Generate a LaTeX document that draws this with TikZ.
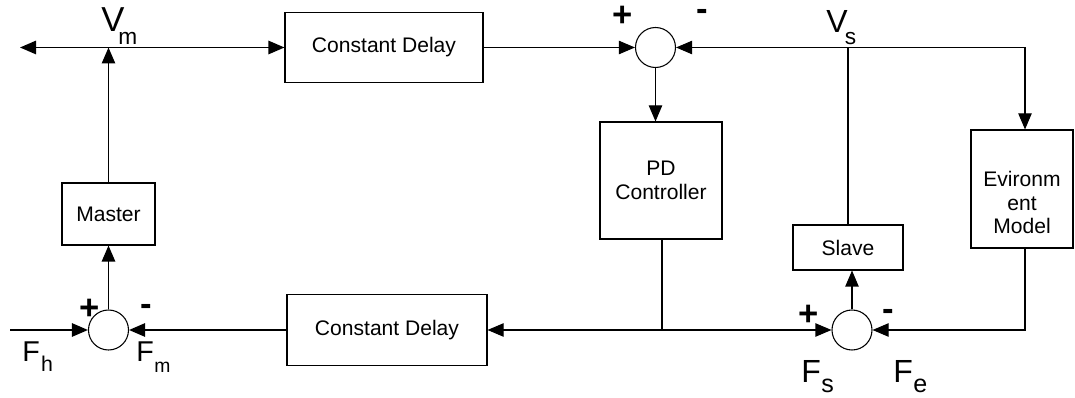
\documentclass[tikz,border=0pt]{standalone}
\usepackage{fontspec}
\setmainfont{Liberation Sans}
\usetikzlibrary{arrows.meta}
\newcommand{\sgl}[5]{{\fontsize{#2}{#2}\selectfont #1}\raisebox{-#5}{\fontsize{#4}{#4}\selectfont #3}}
\begin{document}
\begin{tikzpicture}[x=0.75pt,y=-0.75pt,
  blk/.style={draw, line width=0.8pt, inner sep=0pt, align=center, font=\fontsize{15.8}{17.5}\selectfont},
  blktext/.style={inner sep=0pt, align=center, font=\fontsize{15.8}{17.5}\selectfont},
  sumc/.style={draw, circle, line width=0.8pt, minimum size=30pt, inner sep=0pt},
  sgn/.style={inner sep=0pt, anchor=base, font=\fontsize{26}{26}\selectfont\bfseries},
  lbl/.style={inner sep=0pt, anchor=base west},
  wire/.style={line width=0.8pt},
  wireb/.style={line width=1.3pt},
  tip/.style={-{Triangle[length=12pt,width=10pt]}}
]
\useasboundingbox (0,0) rectangle (1075,398);

% blocks
\node[blk, minimum width=148.5pt, minimum height=52.5pt] (cd1) at (384,47.5) {Constant Delay};
\node[blk, minimum width=150pt, minimum height=53.25pt] (cd2) at (387,330) {Constant Delay};
\node[blk, minimum width=69.75pt, minimum height=46.5pt] (master) at (108.5,214) {Master};
\node[blk, minimum width=91.5pt, minimum height=87.75pt] (pd) at (661,180.5) {PD\\Controller};
\node[blk, minimum width=82.5pt, minimum height=33.75pt] (slave) at (848,247.5) {Slave};
\node[blk, minimum width=76.5pt, minimum height=88.5pt] (env) at (1022,189) {};
\node[blktext] (envt) at (1022,202.5) {Evironm\\ent\\Model};

% summing junctions
\node[sumc] (sum1) at (655.5,47.5) {};
\node[sumc] (sum2) at (108.5,330) {};
\node[sumc] (sum3) at (852,330) {};

% coordinates
\coordinate (vm) at (108.5,47.5);
\coordinate (lft) at (20,47.5);
\coordinate (vs) at (848,47.5);
\coordinate (ec) at (1025,47.5);
\coordinate (jn) at (662,330);
\coordinate (fh) at (10,330);
\coordinate (eb) at (1025,330);

% connectors
\draw[wireb,tip] (vm) -- (lft);
\draw[wireb,tip] (vm) -- (cd1.west);
\draw[wireb,tip] (master.north) -- (vm);
\draw[wire,tip] (cd1.east) -- (sum1.west);
\draw[wire,tip] (vs) -- (sum1.east);
\draw[wire,tip] (vs) -- (ec) -- (ec |- env.north);
\draw[wire] (vs) -- (slave.north);
\draw[wire,tip] (sum1.south) -- (sum1.south |- pd.north);
\draw[wire] (pd.south -| jn) -- (jn);
\draw[wire,tip] (jn) -- (cd2.east);
\draw[wire,tip] (jn) -- (sum3.west);
\draw[wire,tip] (ec |- env.south) -- (eb) -- (sum3.east);
\draw[wire,tip] (sum3.north) -- (sum3.north |- slave.south);
\draw[wireb,tip] (cd2.west) -- (sum2.east);
\draw[wireb,tip] (fh) -- (sum2.west);
\draw[wireb,tip] (sum2.north) -- (master.south);

% signs
\node[sgn] (p1) at (623,27) {+};
\node[sgn] (m1) at (702,21) {-};
\node[sgn] (p2) at (89.5,320) {+};
\node[sgn] (m2) at (146.5,315.5) {-};
\node[sgn] (p3) at (808.5,326) {+};
\node[sgn] (m3) at (888.5,321) {-};

% signal labels
\node[lbl] (vmt) at (101,32) {\sgl{V}{26}{\kern-4.5pt m}{17}{9.75pt}};
\node[lbl] (vst) at (826,33) {\sgl{V}{24}{\kern-2pt s}{17}{9pt}};
\node[lbl] (fht) at (22,362) {\sgl{F}{21.5}{\kern1pt h}{16}{7.5pt}};
\node[lbl] (fmt) at (136,362) {\sgl{F}{21.5}{\kern0.5pt m}{14.5}{8pt}};
\node[lbl] (fst) at (801,383) {\sgl{F}{24}{\kern0.5pt s}{18.8}{7.5pt}};
\node[lbl] (fet) at (893,383) {\sgl{F}{24}{\kern0.5pt e}{18.8}{7.5pt}};
\end{tikzpicture}
\end{document}
